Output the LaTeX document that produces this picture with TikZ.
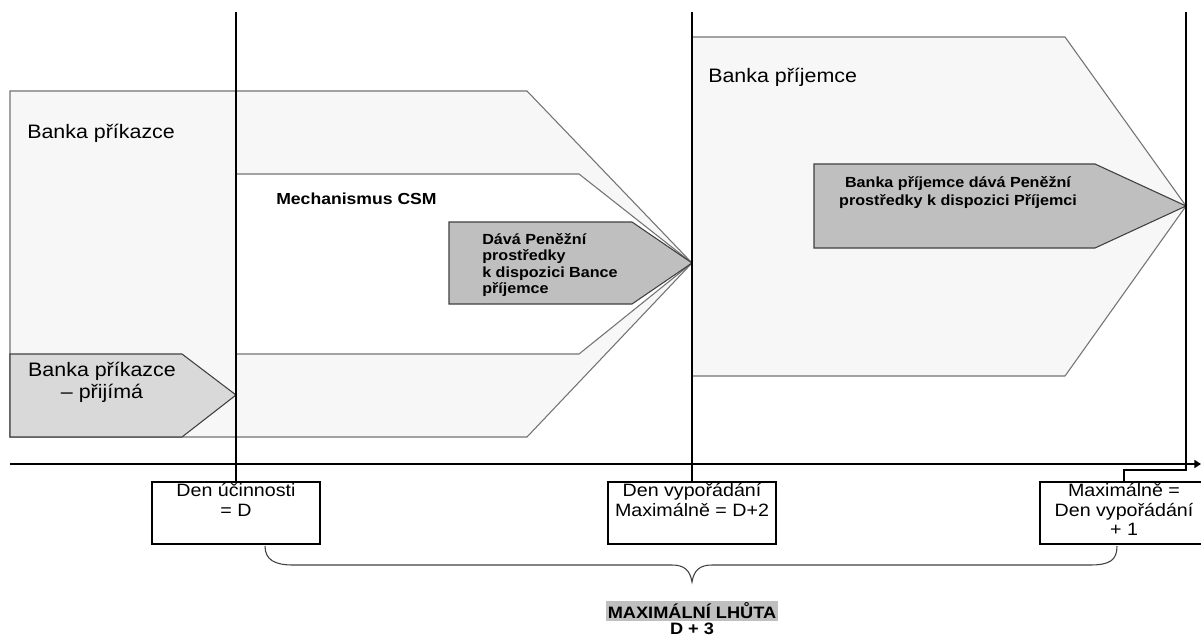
\documentclass[tikz,border=0pt]{standalone}
\usepackage{fontspec}
\setmainfont{Liberation Sans}[FakeStretch=1.1]
\usetikzlibrary{positioning,arrows.meta}
\tikzset{
  phase/.style={draw=black!55, fill=black!3, line width=0.8pt},
  csm/.style={draw=black!55, fill=white, line width=0.8pt},
  action/.style={draw=black!75, fill=black!25, line width=0.8pt},
  daybox/.style={draw, line width=0.9pt, minimum width=126pt, minimum height=46.5pt, inner sep=0pt},
  daytext/.style={align=center, inner sep=0pt, font=\fontsize{13.4}{14.6}\selectfont},
  biglabel/.style={anchor=base west, inner sep=0pt, font=\fontsize{14.6}{16.5}\selectfont},
  timeline/.style={line width=1pt},
}
\begin{document}
\begin{tikzpicture}[x=0.75pt, y=-0.75pt]
  \useasboundingbox (0,0) rectangle (1201,638);
  % phases
  \draw[phase] (10,91) -- (527,91) -- (692,263) -- (527,437) -- (10,437) -- cycle;
  \draw[csm] (236,174) -- (579,174) -- (692,263) -- (579,354) -- (236,354) -- cycle;
  \draw[action] (449,222) -- (632,222) -- (692,263) -- (632,304) -- (449,304) -- cycle;
  \draw[action, fill=black!15] (10,354) -- (182,354) -- (236,395) -- (182,437) -- (10,437) -- cycle;
  \draw[phase] (692,37) -- (1065,37) -- (1186,206) -- (1065,376) -- (692,376) -- cycle;
  \draw[action] (814,164) -- (1095,164) -- (1186,206) -- (1095,248) -- (814,248) -- cycle;
  \node[biglabel] (prikazce) at (27,138) {Banka příkazce};
  \node[biglabel] (prijemce) at (708,83) {Banka příjemce};
  \node[anchor=base west, inner sep=0pt, font=\bfseries\fontsize{12}{13}\selectfont] (mech) at (276,204) {Mechanismus CSM};
  \node[anchor=north west, align=left, inner sep=0pt, font=\bfseries\fontsize{11}{12.3}\selectfont] (dava) at (482,233) {Dává Peněžní\\prostředky\\k dispozici Bance\\příjemce};
  \node[anchor=north, align=center, inner sep=0pt, font=\fontsize{14.6}{16.3}\selectfont] (prijima) at (102,362) {Banka příkazce\\– přijímá};
  \node[anchor=north, align=center, inner sep=0pt, font=\bfseries\fontsize{11}{13.5}\selectfont] (davaprij) at (958,176) {Banka příjemce dává Peněžní\\prostředky k dispozici Příjemci};
  % days
  \node[daybox] (d1) at (236,513) {};
  \node[daybox] (d2) at (692,513) {};
  \node[daybox] (d3) at (1124,513) {};
  \node[daytext, below=1.5pt of d1.north] (t1) {Den účinnosti\\= D};
  \node[daytext, below=1.5pt of d2.north] (t2) {Den vypořádání\\Maximálně = D+2};
  \node[daytext, below=1.5pt of d3.north] (t3) {Maximálně =\\Den vypořádání\\+ 1};
  \coordinate (top1) at (236,12);
  \coordinate (top2) at (692,12);
  \coordinate (top3) at (1186,12);
  \draw[timeline] (top1) -- (d1.north);
  \draw[timeline] (top2) -- (d2.north);
  \draw[timeline] (top3) -- (1186,470) -| (d3.north);
  \coordinate (ax0) at (10,464);
  \coordinate (ax1) at (1201,464);
  \draw[line width=1.3pt, -{Triangle[length=5pt,width=6pt]}] (ax0) -- (ax1);
  % brace
  \draw[line width=0.8pt, black!75] (265,546) .. controls (265,560) and (275,565) .. (293,565) -- (672,565)
    .. controls (684,565) and (690,570) .. (692,582) .. controls (694,570) and (700,565) .. (712,565)
    -- (1090,565) .. controls (1110,565) and (1117,560) .. (1117,546);
  \node[fill=black!25, inner xsep=1.5pt, inner ysep=0pt, minimum height=15pt, font=\bfseries\fontsize{12.4}{13}\selectfont] (lhuta) at (692,611) {MAXIMÁLNÍ LHŮTA};
  \node[below=1pt of lhuta, inner sep=0pt, font=\bfseries\fontsize{12.4}{13}\selectfont] (dtri) {D + 3};
\end{tikzpicture}
\end{document}
